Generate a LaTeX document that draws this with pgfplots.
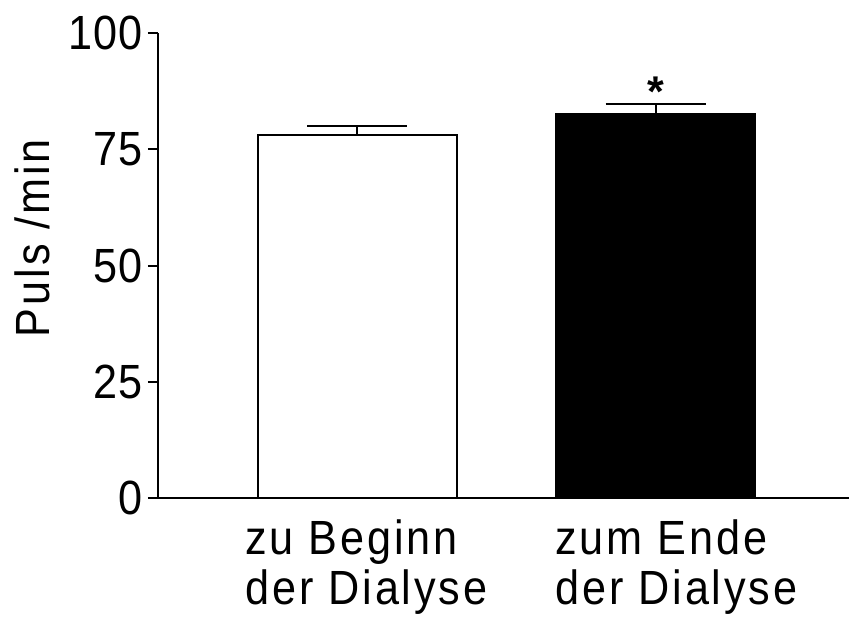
\documentclass[border=0pt]{standalone}
\usepackage{fontspec}
\setmainfont{Liberation Sans}[FakeStretch=0.9, LetterSpace=6]
\newfontfamily\numfont{Liberation Sans}[FakeStretch=0.9, LetterSpace=2]
\newfontfamily\starfont{Liberation Sans}
\usepackage{pgfplots}
\pgfplotsset{compat=1.18}
\begin{document}
\fontsize{24}{25}\selectfont
\begin{tikzpicture}
\begin{axis}[
  scale only axis, width=345.5pt, height=232.2pt,
  xmin=-0.667, xmax=1.648, ymin=0, ymax=100,
  axis x line*=bottom, axis y line*=left,
  axis line style={line width=1pt, black},
  ytick={0,25,50,75,100},
  tick align=outside, major tick length=5pt,
  ytick style={line width=1pt, black},
  xtick={0,1}, xtick style={draw=none},
  xticklabels={{\hspace*{-5.75pt}zu Beginn\\\hspace*{-5.75pt}der Dialyse},{zum Ende\\der Dialyse}},
  xticklabel style={align=left, anchor=north west, inner sep=0pt, xshift=-50.25pt, yshift=-6pt},
  yticklabel style={/pgf/number format/assume math mode=true, font=\numfont, inner sep=0pt, xshift=-2.5pt},
  ylabel={Puls /min},
  ylabel style={at={(axis description cs:-0.182,0.559)}, anchor=center},
  clip=false,
]
\addplot[ybar, bar width=99.5pt, bar shift=0pt, fill=white, draw=black, line width=1pt,
  error bars/.cd, y dir=plus, y explicit,
  error bar style={line width=1pt, black},
  error mark options={rotate=90, mark size=25pt, line width=1pt, black}]
  coordinates {(0,78) +- (0,2)};
\addplot[ybar, bar width=99.5pt, bar shift=0pt, fill=black, draw=black, line width=1pt,
  error bars/.cd, y dir=plus, y explicit,
  error bar style={line width=1pt, black},
  error mark options={rotate=90, mark size=25pt, line width=1pt, black}]
  coordinates {(1,82.6) +- (0,2.2)};
\node[anchor=base, inner sep=0pt, font={\starfont\fontsize{21.5}{23}\selectfont\bfseries}] at (axis cs:1,84.3) {*};
\end{axis}
\pgfresetboundingbox
\path ([shift={(-79pt,-62.15pt)}]current axis.south west) rectangle ([shift={(0pt,16.65pt)}]current axis.north east);
\end{tikzpicture}
\end{document}
